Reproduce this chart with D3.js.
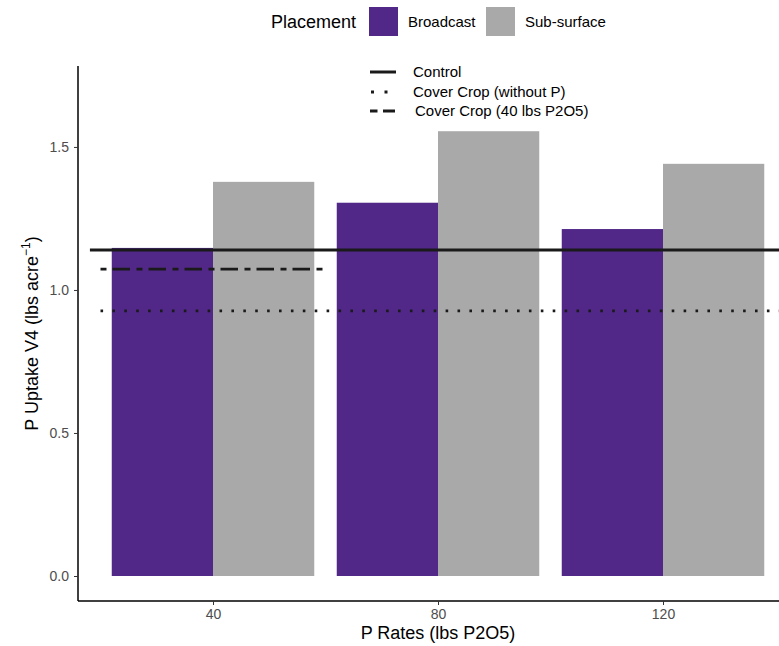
<!DOCTYPE html>
<html><head><meta charset="utf-8">
<script src="https://cdn.jsdelivr.net/npm/d3@7"></script>
<style>body{margin:0;background:#fff}text{font-family:"Liberation Sans",Arial,sans-serif}</style>
</head><body><svg id="c" width="779" height="646"></svg>
<script>
const rates = ["40", "80", "120"];
const placements = ["Broadcast", "Sub-surface"];
const broadcast = [1.147, 1.305, 1.213];
const subsurface = [1.378, 1.555, 1.441];
const yTicks = [0.0, 0.5, 1.0, 1.5];
const refNames = ["Control", "Cover Crop (without P)", "Cover Crop (40 lbs P2O5)"];
const refValues = [1.140, 0.927, 1.073];
const refStart = [0.453, 0.5, 0.5];
const refEnd = [3.6, 3.6, 1.5];
const colors = {"Broadcast": "#512888", "Sub-surface": "#A9A9A9"};

const svg = d3.select("#c");
const L = 78, R = 798, T = 66, B = 601;
const x = d3.scaleLinear().domain([0.4, 3.6]).range([L, R]);
const y = d3.scaleLinear().domain([-0.0874, 1.783]).range([B, T]);
const step = x(2) - x(1);
const bw = step * 0.9 / 2;

const data = [];
rates.forEach((r, i) => {
  data.push({rate: r, i: i + 1, p: "Broadcast", v: broadcast[i]});
  data.push({rate: r, i: i + 1, p: "Sub-surface", v: subsurface[i]});
});

svg.append("g").selectAll("rect").data(data).join("rect")
  .attr("x", d => x(d.i) + (d.p === "Broadcast" ? -bw : 0))
  .attr("width", bw)
  .attr("y", d => y(d.v))
  .attr("height", d => y(0) - y(d.v))
  .attr("fill", d => colors[d.p]);

refNames.forEach((n, k) => {
  const ln = svg.append("line")
    .attr("x1", x(refStart[k])).attr("x2", x(refEnd[k]))
    .attr("y1", y(refValues[k])).attr("y2", y(refValues[k]))
    .attr("stroke", "#1a1a1a").attr("stroke-width", 3);
  if (k === 1) ln.attr("stroke-dasharray", "2.6 9.3").attr("stroke-width", 2.6);
  if (k === 2) ln.attr("stroke-dasharray", "6 6 17.5 6.5").attr("stroke-width", 2.6);
});

const fam = "Liberation Sans, Arial, sans-serif";
const yAxis = d3.axisLeft(y).tickValues(yTicks).tickFormat(d3.format(".1f")).tickSize(4).tickPadding(5);
const gy = svg.append("g").attr("transform", `translate(${L},0)`).call(yAxis);
gy.select(".domain").attr("d", `M0,${T}V${B}`).attr("stroke", "#000").attr("stroke-width", 1.5);
gy.selectAll(".tick line").attr("stroke", "#333").attr("stroke-width", 1);
gy.selectAll(".tick text").attr("fill", "#4d4d4d").style("font-size", "14px").style("font-family", fam);

const xAxis = d3.axisBottom(x).tickValues([1, 2, 3]).tickFormat((d) => rates[d - 1]).tickSize(4).tickPadding(4);
const gx = svg.append("g").attr("transform", `translate(0,${B})`).call(xAxis);
gx.select(".domain").attr("d", `M${L},0H${R}`).attr("stroke", "#000").attr("stroke-width", 1.5);
gx.selectAll(".tick line").attr("stroke", "#333").attr("stroke-width", 1);
gx.selectAll(".tick text").attr("fill", "#4d4d4d").style("font-size", "14px").style("font-family", fam);

svg.append("text").attr("x", x(2)).attr("y", 639).attr("text-anchor", "middle")
  .style("font-size", "18px").text("P Rates (lbs P2O5)");
const yt = svg.append("text").attr("transform", `translate(38,${(T + B) / 2}) rotate(-90)`)
  .attr("text-anchor", "middle").style("font-size", "18px");
yt.append("tspan").text("P Uptake V4 (lbs acre");
yt.append("tspan").attr("dy", -8).style("font-size", "12px").text("−1");
yt.append("tspan").attr("dy", 8).text(")");

const lg = svg.append("g");
lg.append("text").attr("x", 271).attr("y", 28).style("font-size", "18px").text("Placement");
const lx = [369, 486];
placements.forEach((p, k) => {
  lg.append("rect").attr("x", lx[k]).attr("y", 7).attr("width", 29).attr("height", 29).attr("fill", colors[p]);
  lg.append("text").attr("x", lx[k] + 39).attr("y", 27).style("font-size", "15px").text(p);
});

const ly = [72, 92, 111];
const ltx = [413, 413, 415];
refNames.forEach((n, k) => {
  const l = svg.append("line").attr("x1", 370).attr("x2", 396).attr("y1", ly[k]).attr("y2", ly[k])
    .attr("stroke", "#1a1a1a").attr("stroke-width", 3);
  if (k === 1) l.attr("x1", 371).attr("x2", 388).attr("stroke-dasharray", "3 10.5");
  if (k === 2) l.attr("stroke-dasharray", "7.5 5.5 12 20");
  svg.append("text").attr("x", ltx[k]).attr("y", ly[k] + 5).style("font-size", "15px").text(n);
});
</script></body></html>
